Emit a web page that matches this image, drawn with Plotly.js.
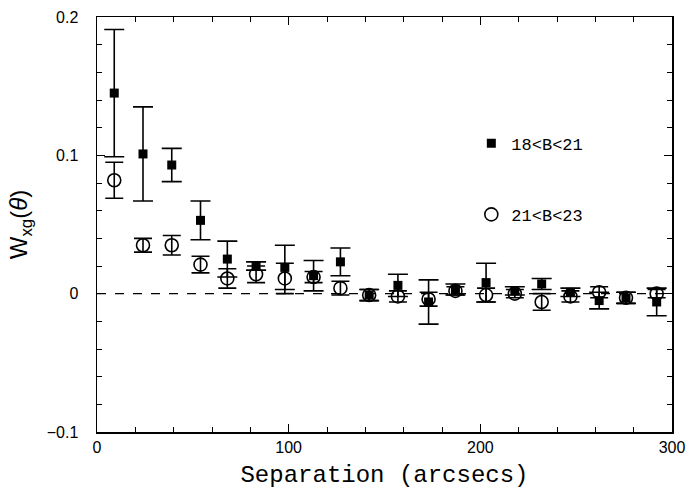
<!DOCTYPE html>
<html>
<head>
<meta charset="utf-8">
<script src="https://cdn.plot.ly/plotly-3.0.1.min.js"></script>
<style>html,body{margin:0;padding:0;background:#fff}#chart{width:687px;height:502px}</style>
</head>
<body>
<div id="chart"></div>
<script>
const sep = [9, 24, 39, 54, 68, 83, 98, 113, 127, 142, 157, 173, 187, 203, 218, 232, 247, 262, 276, 292];
const brightW = [0.145, 0.101, 0.093, 0.053, 0.025, 0.020, 0.019, 0.013, 0.023, -0.001, 0.006, -0.006, 0.003, 0.008, 0.002, 0.007, 0.001, -0.005, -0.003, -0.006];
const brightErr = [0.046, 0.034, 0.012, 0.014, 0.013, 0.003, 0.016, 0.011, 0.010, 0.004, 0.008, 0.016, 0.004, 0.014, 0.003, 0.004, 0.003, 0.006, 0.004, 0.010];
const faintW = [0.082, 0.035, 0.035, 0.021, 0.011, 0.014, 0.011, 0.012, 0.004, -0.001, -0.002, -0.004, 0.002, -0.001, 0.000, -0.006, -0.002, 0.001, -0.003, 0.000];
const faintErr = [0.013, 0.005, 0.007, 0.006, 0.007, 0.006, 0.011, 0.004, 0.005, 0.004, 0.004, 0.005, 0.003, 0.005, 0.003, 0.006, 0.004, 0.004, 0.004, 0.003];
const seriesNames = ["18&lt;B&lt;21", "21&lt;B&lt;23"];

const traces = [
  {
    x: sep, y: brightW, type: 'scatter', mode: 'markers', name: seriesNames[0],
    legendgroup: 'a',
    marker: {symbol: 'square', size: 9, color: '#000'},
    error_y: {type: 'data', array: brightErr, visible: true, color: '#000', thickness: 1.6, width: 10}
  },
  {
    x: sep, y: faintW, type: 'scatter', mode: 'markers', name: seriesNames[1],
    legendgroup: 'b',
    marker: {symbol: 'circle-open', size: 13, color: '#000', line: {width: 1.6, color: '#000'}},
    error_y: {type: 'data', array: faintErr, visible: true, color: '#000', thickness: 1.6, width: 9}
  }
];

const axisCommon = {
  showline: true, linecolor: '#000', linewidth: 1.5, mirror: 'ticks',
  ticks: 'inside', ticklen: 8, tickwidth: 1.3, tickcolor: '#000',
  showgrid: false, zeroline: false,
  tickfont: {family: 'Liberation Sans, Arial, sans-serif', size: 16, color: '#000'}
};

const layout = {
  width: 687, height: 502,
  margin: {l: 97, r: 15, t: 17, b: 70},
  paper_bgcolor: '#fff', plot_bgcolor: '#fff',
  showlegend: true,
  legend: {x: 0.651, y: 0.738, xanchor: 'left', yanchor: 'top', tracegroupgap: 46,
    font: {family: 'Liberation Mono, Courier New, monospace', size: 17, color: '#000'},
    bgcolor: 'rgba(0,0,0,0)', itemwidth: 30},
  xaxis: Object.assign({}, axisCommon, {
    range: [0, 300], dtick: 100, tick0: 0,
    minor: {dtick: 20, ticks: 'inside', ticklen: 5, tickcolor: '#000', tickwidth: 1},
    title: {text: 'Separation (arcsecs)', standoff: 10,
      font: {family: 'Liberation Mono, Courier New, monospace', size: 24, color: '#000'}}
  }),
  yaxis: Object.assign({}, axisCommon, {
    range: [-0.1, 0.2], dtick: 0.1, tick0: 0, tickformat: '.1f',
    ticklabelstandoff: 14,
    minor: {dtick: 0.02, ticks: 'inside', ticklen: 5, tickcolor: '#000', tickwidth: 1},
    title: {text: 'W<sub>xg</sub>(<i>θ</i>)', standoff: 12,
      font: {family: 'Liberation Sans, Arial, sans-serif', size: 24, color: '#000'}}
  }),
  shapes: [
    {type: 'line', xref: 'x', yref: 'y', x0: 0, x1: 300, y0: 0, y1: 0,
     line: {color: '#000', width: 1.3, dash: 'dash'}, layer: 'below'}
  ]
};

Plotly.newPlot('chart', traces, layout, {displayModeBar: false, staticPlot: true}).then(() => {
  document.querySelectorAll('.ytick text').forEach(t => {
    const v = t.textContent.replace('−', '-');
    if (parseFloat(v) === 0) t.textContent = '0';
  });
});
</script>
</body>
</html>
